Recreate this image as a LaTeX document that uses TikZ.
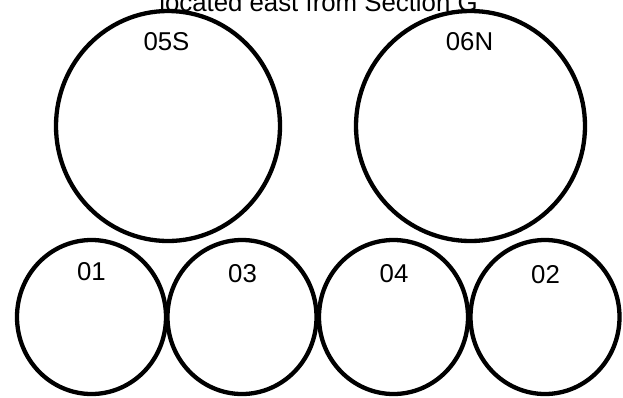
\documentclass[tikz,border=0pt]{standalone}
\usepackage{fontspec}
\setmainfont{Liberation Sans}
\usetikzlibrary{shapes.geometric}
\begin{document}
\begin{tikzpicture}[x=1pt,y=-1pt,
  ring/.style={draw=black,line width=4.3pt,ellipse,inner sep=0pt,fill=none},
  bigring/.style={ring,minimum width=#1,minimum height=230pt},
  smallring/.style={ring,minimum width=149pt,minimum height=154pt},
  lbl/.style={anchor=base,inner sep=0pt,font=\fontsize{25.8}{30}\selectfont}]
\useasboundingbox (0,0) rectangle (623,397);
\node[lbl] (title) at (318.5,11) {located east from Section G};
\node[bigring=224pt] (c05S) at (168,126) {};
\node[bigring=229pt] (c06N) at (470.5,126) {};
\node[smallring] (c01) at (91.5,317) {};
\node[smallring] (c03) at (242,317) {};
\node[smallring] (c04) at (393.5,317) {};
\node[smallring] (c02) at (545,317) {};
\node[lbl] (t05S) at (166.5,50) {05S};
\node[lbl] (t06N) at (469.5,50.5) {06N};
\node[lbl] (t01) at (91.5,280.5) {01};
\node[lbl] (t03) at (242.5,282) {03};
\node[lbl] (t04) at (394,282) {04};
\node[lbl] (t02) at (545.5,283) {02};
\end{tikzpicture}
\end{document}
